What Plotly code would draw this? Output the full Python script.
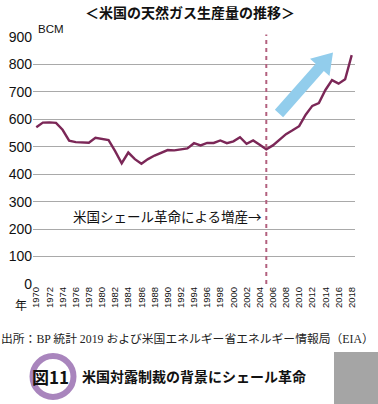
import plotly.graph_objects as go
import math

# ---- data ----
years = list(range(1970, 2019))
production_bcm = [
    571, 588, 589, 587, 562, 522, 517, 516, 515, 533,
    528, 524, 484, 440, 479, 455, 438, 455, 468, 478,
    488, 487, 491, 494, 513, 505, 514, 514, 523, 513,
    520, 535, 511, 523, 507, 491, 505, 524, 546, 560,
    575, 617, 649, 659, 707, 743, 730, 746, 834,
]
tick_years = list(range(1970, 2019, 2))
tick_labels = [str(y) for y in tick_years]
y_ticks = list(range(0, 901, 100))
shale_start_year = 2005

title_text = "＜米国の天然ガス生産量の推移＞"
unit_text = "BCM"
year_text = "年"
note_text = "米国シェール革命による増産→"
source_text = "出所：BP 統計 2019 および米国エネルギー省エネルギー情報局（EIA）"
fig_label = "図11"
caption_text = "米国対露制裁の背景にシェール革命"

W, H = 378, 404
L, R, T, B = 33, 23, 37, 120
PW, PH = W - L - R, H - T - B


def px(x):
    return (x - L) / PW


def py(y):
    return (H - B - y) / PH


fig = go.Figure()
fig.add_trace(go.Scatter(
    x=years, y=production_bcm, mode="lines",
    line=dict(color="#7b2757", width=2.4),
    hoverinfo="skip", showlegend=False,
))

shapes = []
# dashed marker of shale revolution start
shapes.append(dict(type="line", xref="x", yref="paper",
                   x0=shale_start_year, x1=shale_start_year, y0=0, y1=1.01,
                   line=dict(color="#b3617f", width=2, dash="4px,4px"), layer="above"))

# blue trend arrow (decoration)
tx, ty = 279.0, 113.5
ex, ey = 333.0, 52.5
dx, dy = ex - tx, ey - ty
ln = math.hypot(dx, dy)
ux, uy = dx / ln, dy / ln
nx, ny = -uy, ux
sw, hw, hl = 5.5, 13.0, 20.0
hx, hy = ex - ux * hl, ey - uy * hl
pts = [
    (tx + nx * sw, ty + ny * sw),
    (hx + nx * sw, hy + ny * sw),
    (hx + nx * hw, hy + ny * hw),
    (ex, ey),
    (hx - nx * hw, hy - ny * hw),
    (hx - nx * sw, hy - ny * sw),
    (tx - nx * sw, ty - ny * sw),
]
path = "M " + " L ".join(f"{px(a):.5f},{py(b):.5f}" for a, b in pts) + " Z"
shapes.append(dict(type="path", xref="paper", yref="paper", path=path,
                   fillcolor="#92cdec", line=dict(width=0), layer="above"))

# bottom decorations
cx, cy, cr = 53, 376.5, 20.5
shapes.append(dict(type="circle", xref="paper", yref="paper",
                   x0=px(cx - cr), x1=px(cx + cr), y0=py(cy + cr), y1=py(cy - cr),
                   line=dict(color="#a985bd", width=6), fillcolor="rgba(0,0,0,0)"))
shapes.append(dict(type="rect", xref="paper", yref="paper",
                   x0=px(334), x1=px(380), y0=py(406), y1=py(352),
                   line=dict(width=0), fillcolor="#a5a5a5"))

cjk = "Noto Sans CJK JP"
annotations = [
    dict(text=f"<b>{title_text}</b>", xref="paper", yref="paper",
         x=px(190), y=py(12), showarrow=False, xanchor="center", yanchor="middle",
         font=dict(family=cjk, size=14, color="#111111")),
    dict(text=unit_text, xref="paper", yref="paper",
         x=px(36), y=py(29), showarrow=False, xanchor="left", yanchor="middle",
         font=dict(family="Liberation Sans, Arial", size=11.5, color="#111111")),
    dict(text=year_text, xref="paper", yref="paper",
         x=px(21), y=py(304), showarrow=False, xanchor="center", yanchor="middle",
         font=dict(family=cjk, size=12, color="#111111")),
    dict(text=note_text, xref="x", yref="y",
         x=shale_start_year - 0.4, y=246, showarrow=False, xanchor="right", yanchor="middle",
         font=dict(family=cjk, size=13.5, color="#111111")),
    dict(text=source_text, xref="paper", yref="paper",
         x=px(187), y=py(339), showarrow=False, xanchor="center", yanchor="middle",
         font=dict(family="Liberation Serif, Noto Sans CJK JP", size=11.8, color="#222222")),
    dict(text=f"<b>{fig_label}</b>", xref="paper", yref="paper",
         x=px(50), y=py(376), showarrow=False, xanchor="center", yanchor="middle",
         font=dict(family=cjk, size=17, color="#111111")),
    dict(text=f"<b>{caption_text}</b>", xref="paper", yref="paper",
         x=px(80), y=py(376), showarrow=False, xanchor="left", yanchor="middle",
         font=dict(family=cjk, size=14, color="#111111")),
]

fig.update_layout(
    template="none",
    width=W, height=H,
    margin=dict(l=L, r=R, t=T, b=B, pad=0),
    paper_bgcolor="white", plot_bgcolor="white",
    showlegend=False,
    shapes=shapes,
    annotations=annotations,
    xaxis=dict(range=[1969.5, 2018.5], tickmode="array", tickvals=tick_years,
               ticktext=tick_labels, tickangle=-90, showgrid=False, zeroline=False,
               showline=False, ticks="", automargin=False,
               tickfont=dict(family="Liberation Sans Narrow, Liberation Sans", size=9.5, color="#111111")),
    yaxis=dict(range=[0, 900], tickmode="array", tickvals=y_ticks, showgrid=True,
               gridcolor="#a9a9a9", gridwidth=1, zeroline=False, showline=False,
               ticks="", automargin=False,
               tickfont=dict(family="Liberation Sans, Arial", size=14, color="#111111")),
)

fig.write_html("out.html",
               config={"displayModeBar": False, "staticPlot": True},
               post_script="document.body.style.margin='0px';document.body.style.overflow='hidden';")
